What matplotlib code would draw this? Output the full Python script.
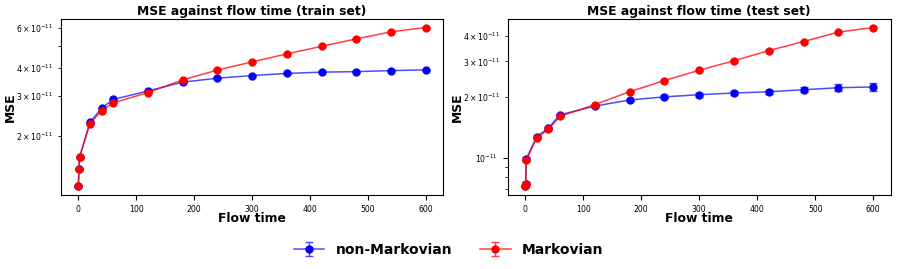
import matplotlib
matplotlib.use("Agg")
import matplotlib.pyplot as plt
import numpy as np

flow_time = [0, 1, 2, 20, 40, 60, 120, 180, 240, 300, 360, 420, 480, 540, 600]

# Train set MSE (x1e-11)
train_nonmarkov = [1.20, 1.43, 1.61, 2.30, 2.65, 2.90, 3.16, 3.46, 3.60, 3.70, 3.78, 3.83, 3.85, 3.89, 3.92]
train_nonmarkov_err = [0.01, 0.01, 0.01, 0.01, 0.01, 0.01, 0.01, 0.01, 0.01, 0.01, 0.01, 0.01, 0.01, 0.01, 0.01]
train_markov = [1.20, 1.43, 1.61, 2.27, 2.58, 2.80, 3.11, 3.54, 3.91, 4.25, 4.61, 4.98, 5.37, 5.77, 6.03]
train_markov_err = [0.01, 0.01, 0.01, 0.01, 0.01, 0.01, 0.01, 0.01, 0.01, 0.01, 0.01, 0.01, 0.01, 0.01, 0.01]

# Test set MSE (x1e-11)
test_nonmarkov = [0.725, 0.744, 0.985, 1.27, 1.40, 1.63, 1.80, 1.93, 2.00, 2.05, 2.09, 2.12, 2.17, 2.22, 2.24]
test_nonmarkov_err = [0.01, 0.01, 0.02, 0.02, 0.02, 0.02, 0.02, 0.03, 0.035, 0.045, 0.05, 0.055, 0.065, 0.09, 0.10]
test_markov = [0.725, 0.744, 0.970, 1.255, 1.38, 1.60, 1.83, 2.12, 2.41, 2.71, 3.02, 3.39, 3.76, 4.19, 4.41]
test_markov_err = [0.01, 0.01, 0.01, 0.01, 0.01, 0.01, 0.01, 0.01, 0.01, 0.01, 0.01, 0.01, 0.01, 0.01, 0.01]

scale = 1e-11
titles = ["MSE against flow time (train set)", "MSE against flow time (test set)"]
labels = ["non-Markovian", "Markovian"]

fig = plt.figure(figsize=(8.97, 2.69), dpi=100)
ax1 = fig.add_axes([0.068, 0.275, 0.426, 0.653])
ax2 = fig.add_axes([0.566, 0.275, 0.427, 0.653])

datasets = [
    (ax1, train_nonmarkov, train_nonmarkov_err, train_markov, train_markov_err, titles[0]),
    (ax2, test_nonmarkov, test_nonmarkov_err, test_markov, test_markov_err, titles[1]),
]

handles = None
for ax, nm, nme, m, me, title in datasets:
    x = np.array(flow_time)
    h1 = ax.errorbar(x, np.array(nm) * scale, yerr=np.array(nme) * scale, fmt='-o',
                     color=(0, 0, 1, 0.7), mfc='blue', mec='blue', ms=5, lw=1.1,
                     capsize=3, elinewidth=1, label=labels[0])
    h2 = ax.errorbar(x, np.array(m) * scale, yerr=np.array(me) * scale, fmt='-o',
                     color=(1, 0, 0, 0.75), mfc='red', mec='red', ms=5, lw=1.1,
                     capsize=3, elinewidth=1, label=labels[1])
    ax.set_yscale('log')
    ax.set_title(title, fontsize=8.9, fontweight='bold', pad=3)
    ax.set_xlabel("Flow time", fontsize=8.9, fontweight='bold', labelpad=-1)
    ax.set_ylabel("MSE", fontsize=8.9, fontweight='bold')
    ax.yaxis.set_label_coords(-0.115, 0.5)
    ax.tick_params(axis='both', which='both', labelsize=5.6)
    ax.set_xticks([0, 100, 200, 300, 400, 500, 600])
    handles = [h1, h2]

fig.legend(handles, labels, loc='center', bbox_to_anchor=(0.5, 0.07), ncol=2,
           frameon=False, prop={'weight': 'bold', 'size': 10}, columnspacing=2.0,
           handlelength=2.2)

fig.savefig("out.png", dpi=100)
